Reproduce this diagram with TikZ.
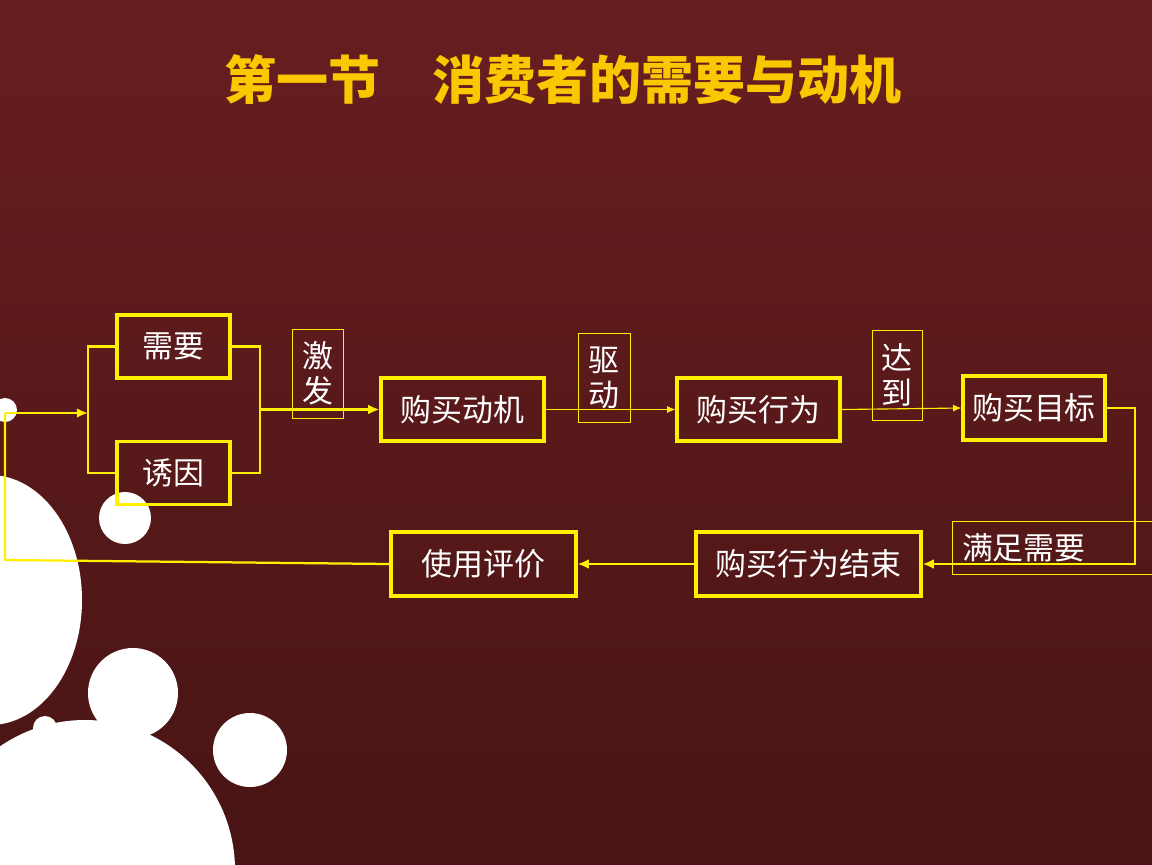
\documentclass[tikz,border=0pt]{standalone}
\usepackage{fontspec}
\newfontfamily\cjk{Noto Sans CJK SC}
\usetikzlibrary{arrows.meta}
\definecolor{bgtop}{RGB}{104,30,32}
\definecolor{bgbot}{RGB}{72,20,20}
\definecolor{titlegold}{RGB}{250,200,0}
\definecolor{boxyellow}{RGB}{255,240,0}

\tikzset{
  mainbox/.style={draw=boxyellow,line width=2.2pt,text=white,font=\cjk\fontsize{22}{24}\selectfont,inner sep=0pt},
  tagbox/.style={draw=boxyellow,line width=0.7pt,text=white,font=\cjk\fontsize{22}{25}\selectfont,inner sep=0pt,align=center},
  link/.style={boxyellow,line width=1.6pt},
  thinlink/.style={boxyellow,line width=0.8pt},
}

\begin{document}
\begin{tikzpicture}[x=0.025cm,y=-0.025cm]
\useasboundingbox (0,0) rectangle (1152,864);
% background and circles
\shade[top color=bgtop,bottom color=bgbot] (0,0) rectangle (1152,864);
\fill[white] (-10,600) ellipse [x radius=92,y radius=125];
\fill[white] (125,518) circle[radius=26];
\fill[white] (133,693) circle[radius=45];
\fill[white] (45,728) circle[radius=12];
\fill[white] (250,750) circle[radius=37];
\fill[white] (85,870) circle[radius=150];
\fill[white] (5,410) circle[radius=12];

\node[text=titlegold,font=\cjk\bfseries\fontsize{37}{40}\selectfont] (title) at (563,80) {第一节\quad 消费者的需要与动机};

% boxes
\node[mainbox,minimum width=113*0.025cm,minimum height=63*0.025cm] (need) at (173.5,346.5) {需要};
\node[mainbox,minimum width=113*0.025cm,minimum height=63*0.025cm] (lure) at (173.5,473) {诱因};
\node[tagbox,minimum width=51*0.025cm,minimum height=89*0.025cm] (spark) at (317.5,373.5) {激\\发};
\node[mainbox,minimum width=163*0.025cm,minimum height=63*0.025cm] (motive) at (462.5,409.5) {购买动机};
\node[tagbox,minimum width=52*0.025cm,minimum height=89*0.025cm] (drive) at (604,377.5) {驱\\动};
\node[mainbox,minimum width=163*0.025cm,minimum height=63*0.025cm] (act) at (758.5,409.5) {购买行为};
\node[tagbox,minimum width=50*0.025cm,minimum height=90*0.025cm] (reach) at (897,375) {达\\到};
\node[mainbox,minimum width=142*0.025cm,minimum height=64*0.025cm] (goal) at (1034,408) {购买目标};
\node[tagbox,minimum width=200*0.025cm,minimum height=53*0.025cm,text width=180*0.025cm,align=left] (sat) at (1052,547.5) {满足需要};
\node[mainbox,minimum width=225*0.025cm,minimum height=64*0.025cm] (done) at (808.5,564) {购买行为结束};
\node[mainbox,minimum width=185*0.025cm,minimum height=64*0.025cm] (eval) at (483.5,564) {使用评价};

\coordinate (start) at (5,413);
\coordinate (split) at (88,413);
\coordinate (join) at (260,409.5);
\coordinate (back) at (5,560);

% connectors
\draw[link] (need.west) -- (88,346.5) -- (88,473) -- (lure.west);
\draw[link] (need.east) -- (260,346.5) -- (260,473) -- (lure.east);
\draw[link,-{Latex[length=8pt,width=7pt]}] (start) -- (split);
\draw[link,-{Latex[length=8pt,width=7pt]}] (join) -- (motive.west);
\draw[thinlink,-{Latex[length=6pt,width=5pt]}] (motive.east) -- (act.west);
\draw[thinlink,-{Latex[length=6pt,width=5pt]}] (act.east) -- (goal.west);
\draw[link,-{Latex[length=8pt,width=7pt]}] (goal.east) -- (1135,408) -- (1135,564) -- (done.east);
\draw[link,-{Latex[length=8pt,width=7pt]}] (done.west) -- (eval.east);
\draw[link] (eval.west) -- (back) -- (start);
\end{tikzpicture}
\end{document}
